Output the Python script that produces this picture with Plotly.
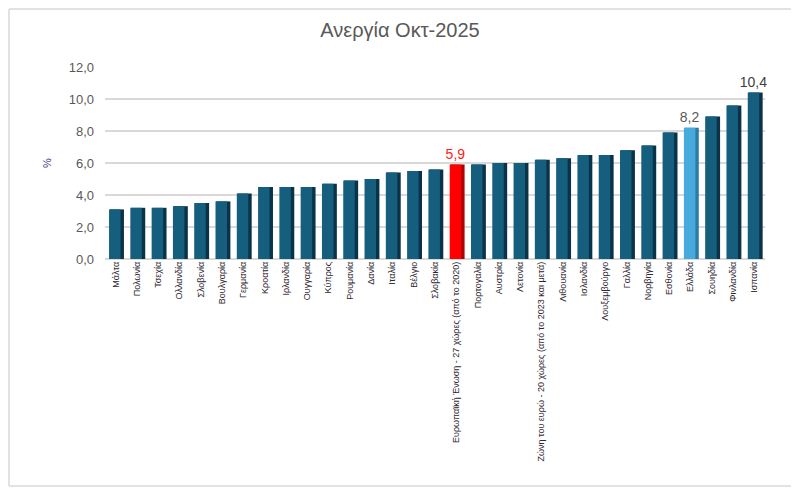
import plotly.graph_objects as go

countries = ["Μάλτα", "Πολωνία", "Τσεχία", "Ολλανδία", "Σλοβενία", "Βουλγαρία", "Γερμανία",
             "Κροατία", "Ιρλανδία", "Ουγγαρία", "Κύπρος", "Ρουμανία", "Δανία", "Ιταλία",
             "Βέλγιο", "Σλοβακία", "Ευρωπαϊκή Ένωση - 27 χώρες (από το 2020)", "Πορτογαλία",
             "Αυστρία", "Λετονία", "Ζώνη του ευρώ - 20 χώρες (από το 2023 και μετά)",
             "Λιθουανία", "Ισλανδία", "Λουξεμβούργο", "Γαλλία", "Νορβηγία", "Εσθονία",
             "Ελλάδα", "Σουηδία", "Φινλανδία", "Ισπανία"]
values = [3.1, 3.2, 3.2, 3.3, 3.5, 3.6, 4.1, 4.5, 4.5, 4.5, 4.7, 4.9, 5.0, 5.4, 5.5, 5.6,
          5.9, 5.9, 6.0, 6.0, 6.2, 6.3, 6.5, 6.5, 6.8, 7.1, 7.9, 8.2, 8.9, 9.6, 10.4]
highlight_eu = "Ευρωπαϊκή Ένωση - 27 χώρες (από το 2020)"
highlight_gr = "Ελλάδα"
y_ticks = [0, 2, 4, 6, 8, 10, 12]

FONT = "Liberation Sans Narrow, Liberation Sans, Arial"

front_cols, side_cols, texts, text_cols = [], [], [], []
for c, v in zip(countries, values):
    lbl = f"{v:.1f}".replace(".", ",")
    if c == highlight_eu:
        front_cols.append("#FF0000"); side_cols.append("#B00000")
        texts.append(lbl); text_cols.append("#FF1A1A")
    elif c == highlight_gr:
        front_cols.append("#47A9DC"); side_cols.append("#2A7DA8")
        texts.append(lbl); text_cols.append("#595959")
    elif v == max(values):
        front_cols.append("#155E7E"); side_cols.append("#0A3347")
        texts.append(lbl); text_cols.append("#404040")
    else:
        front_cols.append("#155E7E"); side_cols.append("#0A3347")
        texts.append(""); text_cols.append("#404040")

fig = go.Figure()
# side (3D depth) face
fig.add_trace(go.Bar(
    x=countries, y=values, marker=dict(color=side_cols, line=dict(width=0)),
    width=0.66, offset=-0.27, hoverinfo="skip", showlegend=False,
))
# front face
fig.add_trace(go.Bar(
    x=countries, y=values, marker=dict(color=front_cols, line=dict(width=0)),
    width=0.54, offset=-0.31, text=texts, textposition="outside",
    constraintext="none",
    textfont=dict(size=14, color=text_cols, family=FONT),
    cliponaxis=False, showlegend=False,
))

W, H = 784, 479          # page has an 8px body margin on every side
L, R, T, B = 97, 27, 59, 228
PW, PH = W - L - R, H - T - B

fig.update_layout(
    width=W, height=H,
    barmode="overlay",
    separators=",.",
    paper_bgcolor="white", plot_bgcolor="white",
    margin=dict(l=L, r=R, t=T, b=B, autoexpand=False),
    font=dict(family=FONT, color="#595959"),
    title=dict(text="Ανεργία Οκτ-2025", x=(400 - 8) / W, xref="container", y=1 - 22 / H,
               yanchor="middle", xanchor="center",
               font=dict(size=20, color="#595959", family=FONT)),
)
fig.update_yaxes(
    range=[0, 12], tickvals=y_ticks, tickformat=".1f",
    showgrid=True, gridcolor="#D9D9D9", gridwidth=1.5,
    zeroline=True, zerolinecolor="#D9D9D9", zerolinewidth=1.5,
    showline=False, ticks="", ticklen=0, ticklabelstandoff=10,
    tickfont=dict(size=13, color="#595959"),
    title=dict(text="%", standoff=14, font=dict(size=11, color="#3B3A7A")),
)
fig.update_xaxes(
    tickangle=-90, showgrid=False, showline=False, ticks="",
    tickfont=dict(size=9, color="#2E2630"),
    range=[-0.5, len(countries) - 0.5],
)
# outer chart border (left, top, bottom)
bc = dict(color="#D9D9D9", width=1.5)
x_left = -(L - 1) / PW
x_right = 1 + (R - 1) / PW
y_top = 1 + (T - 1) / PH
y_bot = -(H - 1 - (T + PH)) / PH
fig.add_shape(type="line", xref="paper", yref="paper", x0=x_left, x1=x_left,
              y0=y_bot, y1=y_top, line=bc)
fig.add_shape(type="line", xref="paper", yref="paper", x0=x_left, x1=x_right,
              y0=y_top, y1=y_top, line=bc)
fig.add_shape(type="line", xref="paper", yref="paper", x0=x_left, x1=x_right,
              y0=y_bot, y1=y_bot, line=bc)

fig.write_html("out.html")
